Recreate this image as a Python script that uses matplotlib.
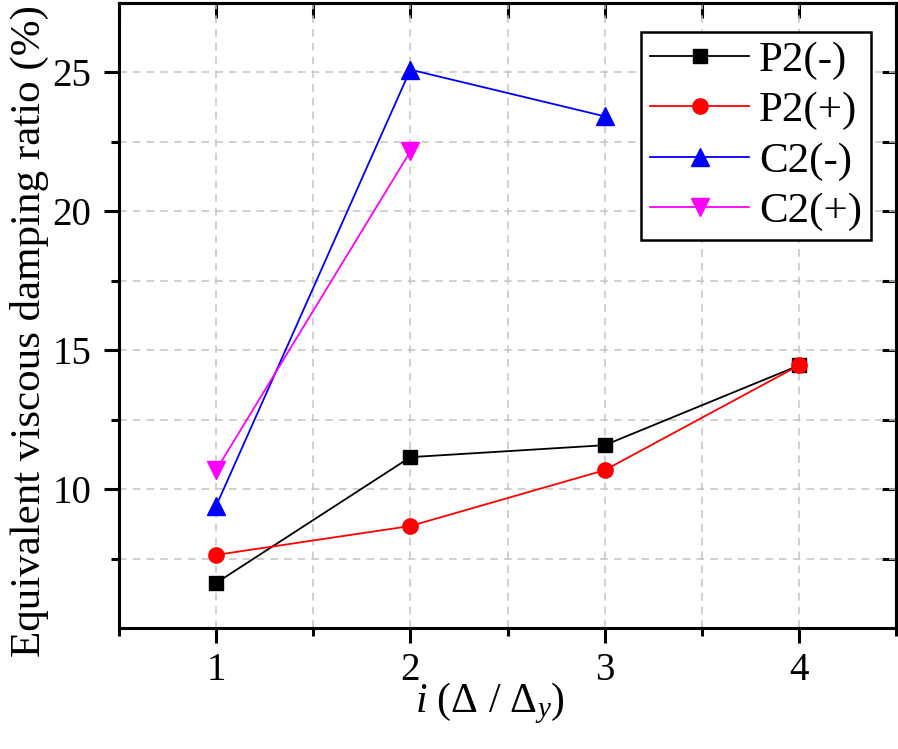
import matplotlib
matplotlib.use("Agg")
import matplotlib.pyplot as plt
from matplotlib.ticker import FixedLocator, NullFormatter

plt.rcParams["font.family"] = ["Liberation Serif", "DejaVu Serif"]
plt.rcParams["mathtext.fontset"] = "custom"
plt.rcParams["mathtext.rm"] = "Liberation Serif"
plt.rcParams["mathtext.it"] = "Liberation Serif:italic"

# data
cycles = [1, 2, 3, 4]
p2_neg = [6.62, 11.15, 11.58, 14.45]
p2_pos = [7.63, 8.67, 10.68, 14.45]
c2_neg = [9.39, 25.1, 23.42]
c2_pos = [10.68, 22.16]

x_major = [1, 2, 3, 4]
x_minor = [0.5, 1.5, 2.5, 3.5, 4.5]
y_major = [10, 15, 20, 25]
y_minor = [7.5, 12.5, 17.5, 22.5]

fig = plt.figure(figsize=(8.98, 7.49), dpi=100)
ax = fig.add_axes([0.1325, 0.1616, 0.8653, 0.8344])

ax.plot(cycles, p2_neg, color="black", lw=1.3, marker="s", ms=9.5, label="P2(-)")
ax.plot(cycles, p2_pos, color="red", lw=1.3, marker="o", ms=11, label="P2(+)")
ax.plot(cycles[:3], c2_neg, color="blue", lw=1.3, marker="^", ms=13, label="C2(-)")
ax.plot(cycles[:2], c2_pos, color="magenta", lw=1.3, marker="v", ms=13, label="C2(+)")

ax.set_xlim(0.5, 4.5)
ax.set_ylim(5, 27.5)
ax.xaxis.set_major_locator(FixedLocator(x_major))
ax.xaxis.set_minor_locator(FixedLocator(x_minor))
ax.yaxis.set_major_locator(FixedLocator(y_major))
ax.yaxis.set_minor_locator(FixedLocator(y_minor))

ax.grid(True, which="both", color="#c4c4c4", ls=(0, (5, 4)), lw=1.1)
ax.set_axisbelow(True)

for s in ax.spines.values():
    s.set_linewidth(2.2)

ax.tick_params(which="major", direction="out", length=11, width=2.2,
               labelsize=28, pad=6)
ax.tick_params(axis="y", which="major", pad=9)
ax.tick_params(which="minor", direction="out", length=6, width=2.2)

# inward ticks on top and right
top = ax.secondary_xaxis("top")
top.xaxis.set_major_locator(FixedLocator(x_major + x_minor))
top.xaxis.set_major_formatter(NullFormatter())
top.tick_params(direction="in", length=11, width=2.2)
top.spines["top"].set_linewidth(2.2)
right = ax.secondary_yaxis("right")
right.yaxis.set_major_locator(FixedLocator(y_major + y_minor))
right.yaxis.set_major_formatter(NullFormatter())
right.tick_params(direction="in", length=10, width=2.2)
right.spines["right"].set_linewidth(2.2)

ax.set_ylabel("Equivalent viscous damping ratio (%)", fontsize=31)
ax.yaxis.set_label_coords(-0.09, 0.475)
ax.set_xlabel(r"$i$ ($\Delta$ / $\Delta_y$)", fontsize=30)
ax.xaxis.set_label_coords(0.477, -0.085)

leg = ax.legend(loc="upper right", bbox_to_anchor=(0.968, 0.954),
                fontsize=31, frameon=True, fancybox=False, borderaxespad=0,
                handlelength=2.3, handletextpad=0.23, borderpad=0.21,
                labelspacing=0.26)
leg.get_frame().set_edgecolor("black")
leg.get_frame().set_linewidth(1.8)
leg.get_frame().set_alpha(1)

fig.savefig("out.png", dpi=100)
